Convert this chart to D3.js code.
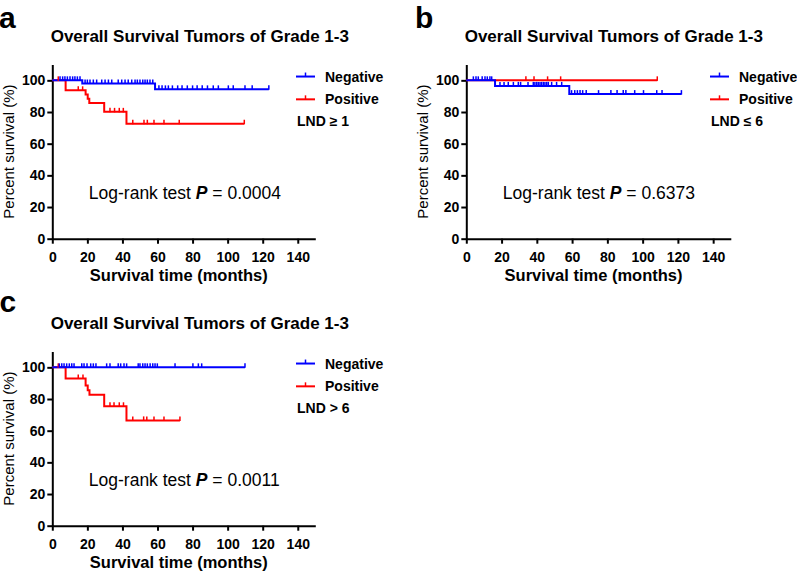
<!DOCTYPE html>
<html><head><meta charset="utf-8">
<script src="https://cdn.jsdelivr.net/npm/d3@7"></script>
<style>
body{margin:0;background:#fff}
svg{display:block}
text{font-family:"Liberation Sans",Arial,Helvetica,sans-serif;fill:#000}
</style>
</head><body>
<svg id="chart" width="797" height="573"></svg>
<script>
// ---------- data ----------
const xTicks = [0, 20, 40, 60, 80, 100, 120, 140];
const yTicks = [0, 20, 40, 60, 80, 100];
const seriesNames = ["Negative", "Positive"];
const panelLetters = ["a", "b", "c"];
const panelTitles = ["Overall Survival Tumors of Grade 1-3", "Overall Survival Tumors of Grade 1-3", "Overall Survival Tumors of Grade 1-3"];
const lndLabels = ["LND \u2265 1", "LND \u2264 6", "LND > 6"];
const pValues = ["0.0004", "0.6373", "0.0011"];

// Panel a
const aNegTimes = [0, 17.1, 58.6];
const aNegSurv = [100, 98.0, 94.3];
const aNegEnd = 123.5;
const aNegCensor = [4.4, 5.9, 7.2, 8.6, 10.1, 11.6, 12.9, 14.3, 15.8, 18.7, 20.0, 21.5, 23.4, 25.3, 28.2, 30.1, 32.0, 33.9, 37.6, 39.6, 41.5, 43.3, 45.3, 47.2, 48.5, 50.0, 51.6, 52.9, 54.2, 55.7, 57.3, 60.8, 62.6, 64.5, 66.2, 68.5, 71.5, 74.0, 77.0, 80.0, 82.6, 85.5, 88.5, 91.8, 94.7, 100.4, 103.2, 109.9, 114.0, 123.5];
const aPosTimes = [0, 7.6, 19.0, 20.2, 21.1, 29.6, 42.3];
const aPosSurv = [100, 93.7, 91.0, 88.3, 85.7, 80.1, 72.6];
const aPosEnd = 109.5;
const aPosCensor = [3.4, 14.8, 17.3, 32.9, 35.5, 38.2, 40.5, 45.9, 52.3, 54.2, 58.0, 63.7, 72.4, 109.5];

// Panel b
const bNegTimes = [0, 16.3, 58.4];
const bNegSurv = [100, 96.5, 91.3];
const bNegEnd = 122.0;
const bNegCensor = [4.0, 5.5, 6.8, 9.0, 10.6, 11.9, 13.4, 14.4, 19.1, 21.4, 23.8, 26.7, 29.5, 30.8, 35.0, 38.0, 38.9, 39.9, 40.8, 41.8, 42.7, 43.7, 44.6, 45.6, 46.5, 48.4, 51.2, 54.1, 59.7, 61.5, 63.0, 64.5, 66.0, 68.0, 75.0, 82.0, 85.5, 89.0, 90.5, 95.5, 100.5, 108.0, 111.0, 122.0];
const bPosTimes = [0];
const bPosSurv = [100];
const bPosEnd = 108.3;
const bPosCensor = [33.8, 38.4, 46.1, 53.5, 108.3];

// Panel c
const cNegTimes = [0];
const cNegSurv = [100];
const cNegEnd = 109.9;
const cNegCensor = [4.0, 5.4, 6.7, 8.2, 9.7, 11.1, 12.4, 16.8, 18.1, 19.8, 21.9, 23.4, 24.9, 31.0, 32.9, 37.6, 39.0, 40.9, 42.4, 49.0, 50.0, 51.6, 52.9, 54.2, 55.8, 57.3, 58.6, 59.9, 70.0, 80.2, 83.3, 85.2, 109.9];
const cPosTimes = [0, 7.6, 19.0, 20.2, 21.2, 29.6, 42.3];
const cPosSurv = [100, 92.9, 88.6, 85.6, 82.7, 75.4, 66.5];
const cPosEnd = 72.8;
const cPosCensor = [3.4, 14.8, 17.5, 32.9, 35.2, 38.2, 40.6, 45.9, 52.1, 53.9, 58.0, 63.7, 72.8];

// ---------- layout ----------
const BLUE = "#0000ff", RED = "#ff0000";
const panels = [
  { x0: 52.3, y0: 238.7, w: 263.0, letterX: -1, letterY: 27.5,
    neg: [aNegTimes, aNegSurv, aNegEnd, aNegCensor], pos: [aPosTimes, aPosSurv, aPosEnd, aPosCensor] },
  { x0: 466.3, y0: 238.7, w: 264.5, letterX: 415, letterY: 27.5,
    neg: [bNegTimes, bNegSurv, bNegEnd, bNegCensor], pos: [bPosTimes, bPosSurv, bPosEnd, bPosCensor] },
  { x0: 52.3, y0: 525.7, w: 263.0, letterX: -0.5, letterY: 312,
    neg: [cNegTimes, cNegSurv, cNegEnd, cNegCensor], pos: [cPosTimes, cPosSurv, cPosEnd, cPosCensor] }
];
const H = 174.2;

const svg = d3.select("#chart");
svg.append("rect").attr("width", 797).attr("height", 573).attr("fill", "#fff");

panels.forEach((p, i) => {
  const x = d3.scaleLinear().domain([0, 150]).range([p.x0, p.x0 + p.w]);
  const y = d3.scaleLinear().domain([0, 110]).range([p.y0, p.y0 - H]);
  const g = svg.append("g");

  // panel letter
  g.append("text").attr("x", p.letterX).attr("y", p.letterY)
    .attr("font-size", 30).attr("font-weight", "bold").text(panelLetters[i]);
  // title
  g.append("text").attr("x", p.x0 + 147.5).attr("y", y(100) - 38.5)
    .attr("text-anchor", "middle").attr("font-size", 17).attr("font-weight", "bold")
    .text(panelTitles[i]);

  // axes
  const xAxis = g.append("g").attr("transform", `translate(0,${p.y0})`)
    .call(d3.axisBottom(x).tickValues(xTicks).tickSize(5).tickSizeOuter(0).tickPadding(8));
  const yAxis = g.append("g").attr("transform", `translate(${p.x0},0)`)
    .call(d3.axisLeft(y).tickValues(yTicks).tickSize(5).tickSizeOuter(0).tickPadding(2));
  [xAxis, yAxis].forEach(a => {
    a.select(".domain").attr("stroke", "#000").attr("stroke-width", 2);
    a.selectAll(".tick line").attr("stroke", "#000").attr("stroke-width", 2);
    a.selectAll(".tick text").attr("font-size", 14).attr("font-weight", "bold")
      .attr("font-family", "'Liberation Sans',Arial,sans-serif").attr("fill", "#000");
  });

  // axis titles
  g.append("text").attr("x", x(75) - 5).attr("y", p.y0 + 42)
    .attr("text-anchor", "middle").attr("font-size", 16.5).attr("font-weight", "bold")
    .text("Survival time (months)");
  g.append("text").attr("transform", `translate(${p.x0 - 38},${y(55)}) rotate(-90)`)
    .attr("text-anchor", "middle").attr("font-size", 15)
    .text("Percent survival (%)");

  // curves
  const line = d3.line().curve(d3.curveStepAfter).x(d => x(d[0])).y(d => y(d[1]));
  const curve = (s) => {
    const pts = s[0].map((t, k) => [t, s[1][k]]);
    pts.push([s[2], s[1][s[1].length - 1]]);
    return pts;
  };
  const survAt = (s, t) => {
    let v = s[1][0];
    s[0].forEach((tt, k) => { if (tt <= t) v = s[1][k]; });
    return v;
  };
  const order = [[p.pos, RED], [p.neg, BLUE]];
  order.forEach(([s, col]) => {
    g.append("path").datum(curve(s)).attr("d", line)
      .attr("fill", "none").attr("stroke", col).attr("stroke-width", 2);
  });
  order.forEach(([s, col]) => {
    g.selectAll(null).data(s[3]).enter().append("line")
      .attr("x1", d => x(d)).attr("x2", d => x(d))
      .attr("y1", d => y(survAt(s, d)) + 0.5).attr("y2", d => y(survAt(s, d)) - 4)
      .attr("stroke", col).attr("stroke-width", 1.5);
  });

  // legend
  const lx = p.x0 + 243.7;
  const legY = [y(100) - 3.8, y(100) + 19];
  [[BLUE, 0], [RED, 1]].forEach(([col, k]) => {
    const ly = legY[k];
    g.append("line").attr("x1", lx).attr("x2", lx + 19).attr("y1", ly).attr("y2", ly)
      .attr("stroke", col).attr("stroke-width", 2);
    g.append("line").attr("x1", lx + 9.5).attr("x2", lx + 9.5).attr("y1", ly).attr("y2", ly - 4)
      .attr("stroke", col).attr("stroke-width", 1.5);
    g.append("text").attr("x", lx + 29).attr("y", ly + 5)
      .attr("font-size", 14).attr("font-weight", "bold").text(seriesNames[k]);
  });
  g.append("text").attr("x", lx + 1).attr("y", y(100) + 45.5)
    .attr("font-size", 14).attr("font-weight", "bold").text(lndLabels[i]);

  // log-rank text
  const t = g.append("text").attr("x", p.x0 + 36.5).attr("y", p.y0 - 46 + 6.3)
    .attr("font-size", 17.5);
  t.append("tspan").text("Log-rank test ");
  t.append("tspan").attr("font-weight", "bold").attr("font-style", "italic").text("P");
  t.append("tspan").text(" = " + pValues[i]);
});
</script>
</body></html>
